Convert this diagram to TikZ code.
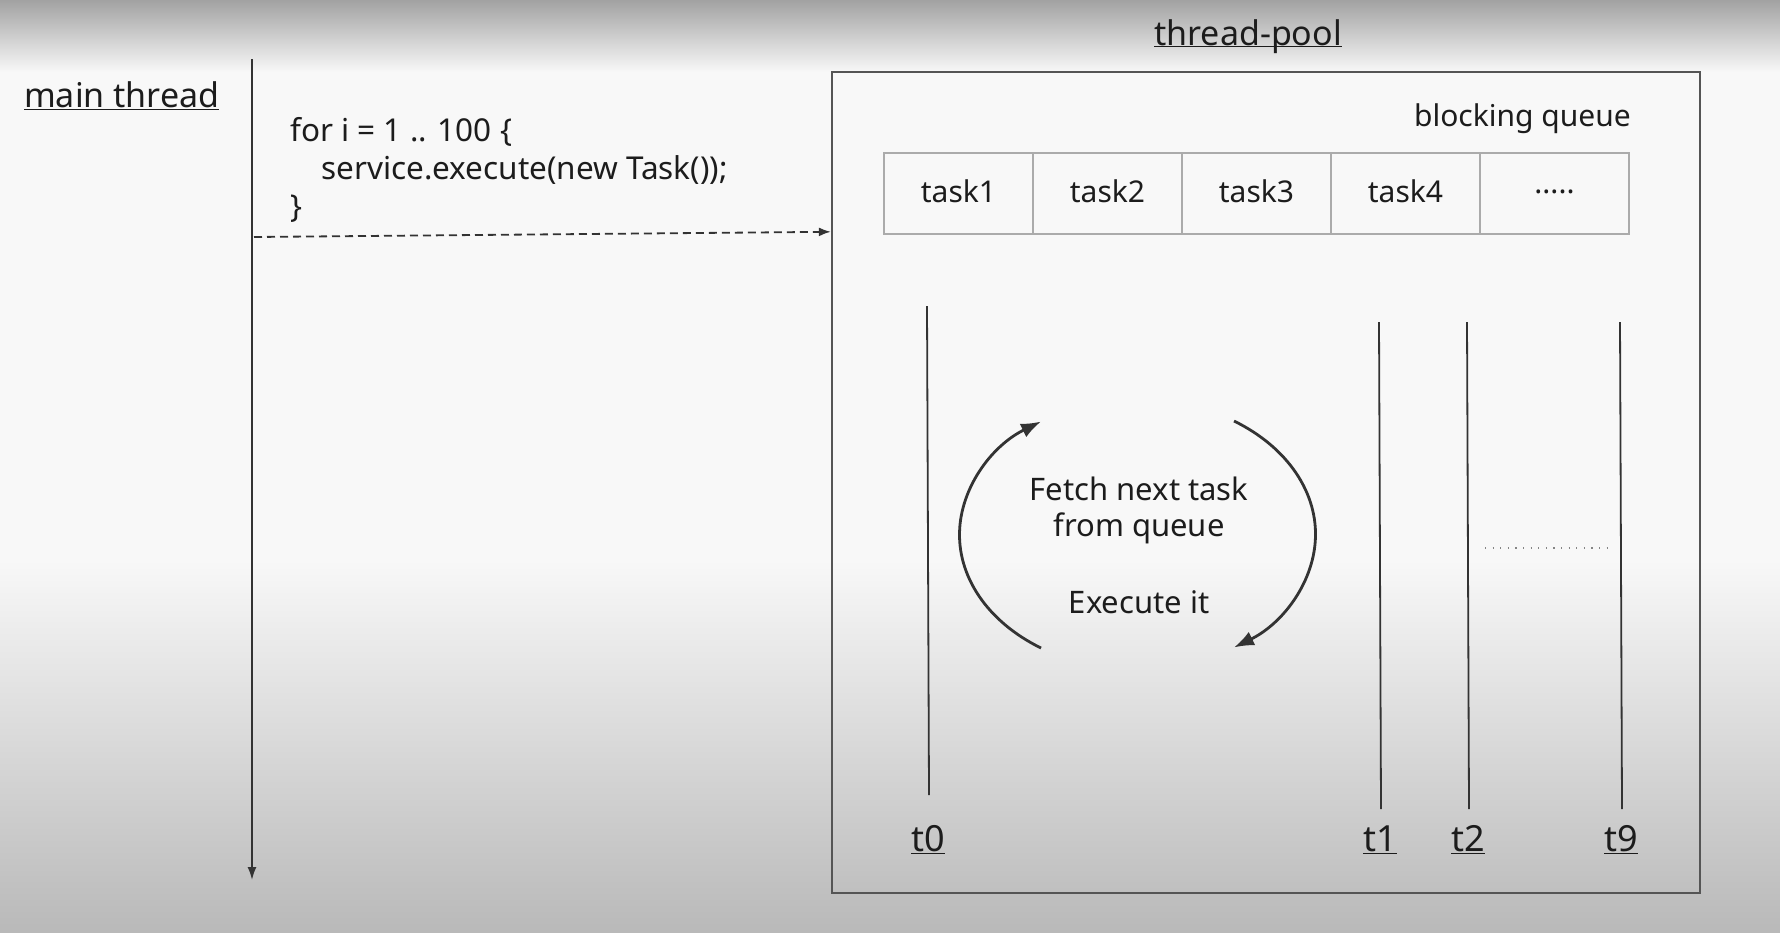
\documentclass[tikz,border=0pt]{standalone}
\usepackage{fontspec}
\setmainfont{Noto Sans}
\usepackage{xcolor}
\usetikzlibrary{arrows.meta, positioning}

\definecolor{ink}{HTML}{1C1C1C}
\definecolor{wire}{HTML}{333333}
\definecolor{boxline}{HTML}{555555}
\definecolor{cellline}{HTML}{ABABAB}
\definecolor{bgtop}{HTML}{A2A2A2}
\definecolor{bgmid}{HTML}{F8F8F8}
\definecolor{bgbot}{HTML}{B9B9B9}

\newcommand\moretasks{.....}

\tikzset{
  txt/.style={text=ink, inner sep=0pt, font=\fontsize{31}{38}\selectfont},
  bigtxt/.style={text=ink, inner sep=0pt, font=\fontsize{34}{42}\selectfont},
  cell/.style={draw=cellline, line width=2pt, minimum width=149, minimum height=81,
    inner sep=0pt, text=ink, font=\fontsize{30}{36}\selectfont},
  threadline/.style={draw=wire, line width=1.8pt},
  looparrow/.style={draw=wire, line width=2.8pt, -{Latex[length=20pt,width=15pt]}}
}

\begin{document}
\begin{tikzpicture}[x=1pt, y=-1pt]

  \useasboundingbox (0,0) rectangle (1780,932);

  % fundo
  \fill[top color=bgtop, bottom color=bgmid] (0,0) rectangle (1780,72);
  \fill[bgmid] (0,72) rectangle (1780,560);
  \fill[top color=bgmid, bottom color=bgbot] (0,560) rectangle (1780,932);

  % main thread
  \node[bigtxt, anchor=base west] (main) at (24,107) {\underline{main thread}};
  \coordinate (mtop) at (252,59);
  \coordinate (mbot) at (252,880);
  \draw[wire, line width=1.8pt, -{Latex[length=13pt,width=9pt]}] (mtop) -- (mbot);

  % loop code
  \node[txt, font=\fontsize{31.5}{38}\selectfont, anchor=base west, align=left] (code) at (290,217)
    {for i = 1 .. 100 \{\\\hspace*{31pt}service.execute(new Task());\\\}};

  % thread-pool box
  \node[draw=boxline, line width=2.4pt, minimum width=868, minimum height=821, inner sep=0pt] (pool) at (1266,482.5) {};
  \node[bigtxt, anchor=base] (title) at (1248,45) {\underline{\smash{thread-pool}}};

  % submit arrow
  \coordinate (send) at (254,237);
  \draw[wire, line width=1.8pt, dash pattern=on 8pt off 5pt, -{Latex[length=12pt,width=9pt]}] (send) -- ([yshift=-161]pool.north west);

  % blocking queue
  \node[txt, font=\fontsize{30}{36}\selectfont, anchor=base east] (bq) at (1631,126) {blocking queue};
  \foreach \i/\txt in {1/task1, 2/task2, 3/task3, 4/task4, 5/\moretasks} {
    \node[cell] (q\i) at ({884+149*(\i-0.5)},193) {\raisebox{3pt}{\txt}};
  }

  % threads
  \foreach \n/\x/\top/\bot in {0/927/306/795, 1/1379/322/809, 2/1467/322/809, 9/1620/322/809} {
    \node[txt, font=\fontsize{36}{44}\selectfont, anchor=base] (t\n) at (\x+1,851) {\underline{t\n}};
    \coordinate (t\n top) at (\x,\top);
    \coordinate (t\n bot) at (\x+2,\bot);
    \draw[threadline] (t\n top) -- (t\n bot);
  }
  \coordinate (dotl) at (1485,548);
  \coordinate (dotr) at (1607,548);
  \draw[wire!60, line width=1.2pt, dash pattern=on 1.2pt off 6.4pt] (dotl) -- (dotr);

  % fetch / execute loop
  \node[txt, anchor=base] (fetch) at (1139,500) {Fetch next task};
  \node[txt, anchor=base] (from) at (1139,536) {from queue};
  \node[txt, anchor=base] (exec) at (1139,613) {Execute it};
  \coordinate (lbot) at (1041,648);
  \coordinate (rtop) at (1234,421);
  \draw[looparrow] (lbot) arc[start angle=123, end angle=237, x radius=179, y radius=135];
  \draw[looparrow] (rtop) arc[start angle=-57, end angle=57, x radius=179, y radius=135];

\end{tikzpicture}
\end{document}
